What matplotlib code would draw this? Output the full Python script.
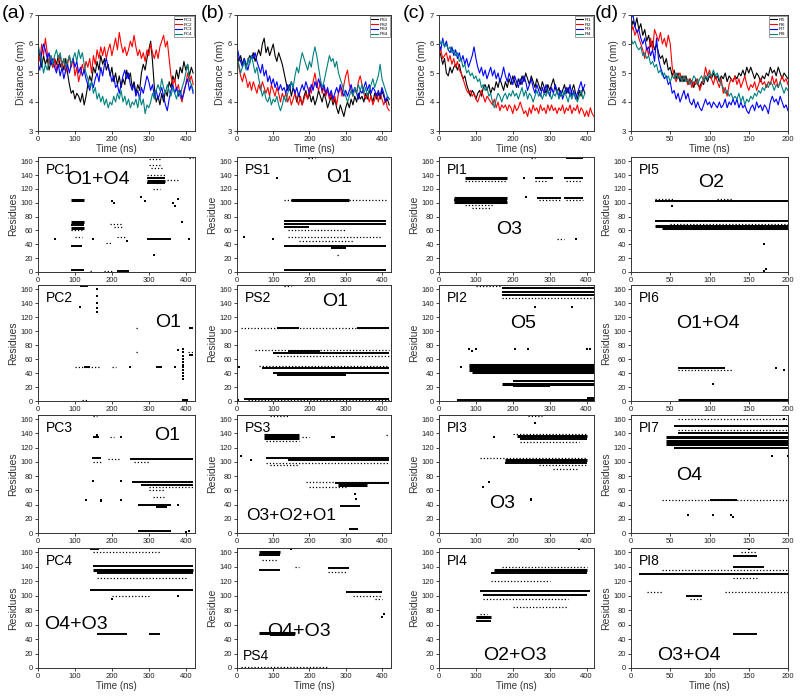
import numpy as np
import matplotlib.pyplot as plt

plt.rcParams['font.family'] = ['Liberation Sans', 'DejaVu Sans']

W, H = 800, 699

# ---------------- distance time series (nm) ----------------
t5 = np.arange(0, 425, 5)        # 0..420 ns
t25 = np.arange(0, 202.5, 2.5)   # 0..200 ns

pc1 = [5.5,5.7,5.2,5.6,5.3,5.5,5.1,5.4,5.2, 5.5,5.3,5.6,5.2,5.4,5.1,5.5,5.0,
       4.6,4.3,4.4,4.1,4.3,4.2,4.0,4.3,3.9,4.2, 4.6,4.9,4.7,5.2,5.0,5.4,5.1,5.6,5.3,
       5.5,5.1,5.3,4.9,5.2,4.7,5.0,4.6, 4.9,4.5,4.8,4.6,5.1,4.8,5.0,4.5,4.7,
       4.3,4.6,4.4,5.0,5.3,5.1,5.5,5.8, 6.1,5.4,4.5,4.0,4.2,3.9,4.3,4.0,
       4.4,4.2,4.7,4.5,4.9,4.7,5.1,4.8,5.2, 5.0,5.4,5.1,5.3,4.9,5.2,5.0]
pc2 = [5.8,5.4,6.0,5.6,6.2,5.7,5.3,5.6,5.2, 5.5,5.1,5.4,5.6,5.2,5.5,5.0,5.3,
       5.6,5.2,5.5,4.9,5.2,4.7,5.0,5.3,5.0,5.4, 5.2,5.5,5.0,5.6,5.3,5.8,5.5,5.9,5.6,
       5.9,5.5,5.8,6.0,5.6,5.9,6.2,5.8, 6.4,6.0,5.7,5.9,5.6,5.8,6.1,5.9,6.3,
       5.9,5.6,5.8,5.5,5.7,5.4,5.8,5.6, 6.0,5.7,5.5,5.8,5.5,5.9,6.1,6.3,
       5.9,6.1,5.5,4.9,4.6,4.8,4.4,4.6,4.2, 4.0,4.4,4.6,5.0,4.7,4.9,4.6]
pc3 = [5.3,5.1,5.7,6.0,5.8,5.5,5.7,5.3,5.5, 5.2,5.0,5.3,4.9,5.2,4.8,5.1,5.3,
       5.0,5.3,5.5,5.2,5.4,5.0,5.2,4.9,5.1,4.8, 4.6,4.4,4.7,4.5,4.8,5.0,4.7,5.2,4.9,
       5.3,5.5,5.2,5.0,4.7,4.9,4.5,4.6, 4.3,4.6,4.9,5.1,4.8,5.0,4.6,4.4,4.6,
       4.2,4.4,4.1,4.5,4.3,4.6,4.9,4.7, 4.4,4.6,4.2,4.4,4.1,4.3,4.5,4.2,
       3.9,3.7,4.1,4.4,4.6,4.3,4.5,4.2,4.4, 4.1,4.3,4.6,4.8,4.4,4.6,4.3]
pc4 = [6.0,5.7,5.4,5.0,5.3,5.1,5.4,5.6,5.3, 5.6,5.8,5.5,5.7,5.3,5.5,5.2,5.4,
       5.6,5.3,5.5,5.7,5.4,5.8,5.5,5.7,5.3,5.0, 4.8,4.5,4.7,4.3,4.5,4.1,4.3,4.0,4.2,
       3.9,4.1,3.8,4.0,3.9,4.2,4.0,4.3, 4.1,4.4,4.0,4.2,3.9,4.1,3.8,4.0,3.9,
       4.1,3.8,4.2,3.9,4.1,3.6,3.9,3.8, 4.0,4.3,4.1,4.4,4.6,4.4,4.8,4.5,
       4.3,4.6,4.4,4.2,4.5,4.3,4.1,4.4,4.2, 4.5,4.7,5.0,5.3,4.8,4.6,4.4]

ps1 = [5.7,5.4,5.6,5.3,5.5,5.2,5.4,5.6,5.5, 5.7,5.4,5.6,5.8,5.6,6.0,6.2,5.7,
       5.9,5.6,5.8,6.0,5.6,5.4,5.7,5.5,5.3,5.0, 4.7,4.4,4.6,4.2,4.5,4.3,4.0,4.3,4.1,
       3.9,4.2,4.4,4.1,4.3,4.0,4.2,3.9, 4.1,4.4,4.2,4.0,4.3,4.1,3.8,4.0,4.2,
       3.9,4.1,3.8,3.6,3.9,3.7,3.5,3.8, 4.0,3.8,4.1,3.9,4.2,4.0,4.3,4.1,
       4.2,4.0,4.3,4.1,4.4,4.2,4.0,4.3,4.1, 4.3,4.1,4.4,4.2,4.0,4.1,3.9]
ps2 = [5.6,5.2,4.9,4.7,5.0,4.8,4.5,4.7,4.4, 4.7,4.5,4.3,4.6,4.4,4.7,4.5,4.3,
       4.5,4.2,4.6,4.4,4.2,4.5,4.3,4.0,4.3,4.1, 4.3,4.0,4.2,3.9,4.1,4.3,4.1,3.9,4.2,
       3.9,4.1,4.3,4.1,4.5,4.3,4.7,5.0, 4.6,4.4,4.7,4.3,4.5,4.2,4.4,4.1,4.3,
       4.0,4.2,3.9,4.3,4.5,4.2,4.6,4.9, 5.1,4.6,4.4,4.2,4.5,4.3,4.7,4.9,
       4.6,4.3,4.1,4.3,4.0,4.2,3.9,4.1,4.3, 4.0,4.3,4.1,3.9,4.1,3.8,3.7]
ps3 = [5.9,5.6,5.4,5.2,5.5,5.3,5.1,5.4,5.6, 5.5,5.7,5.4,5.2,5.0,5.3,4.9,5.1,
       4.7,4.9,4.6,4.8,4.5,4.7,4.4,4.6,4.4,4.5, 4.3,4.6,4.4,4.7,4.5,4.3,4.5,4.2,4.4,
       4.6,4.4,4.7,4.5,4.3,4.6,4.4,4.7, 4.5,4.8,4.6,4.4,4.6,4.3,4.5,4.2,4.4,
       4.1,4.3,4.5,4.3,4.6,4.4,4.2,4.4, 4.2,4.4,4.6,4.3,4.5,4.3,4.1,4.4,
       4.3,4.5,4.7,4.4,4.6,4.3,4.5,4.4,4.2, 4.4,4.2,4.5,4.3,4.0,4.2,4.1]
ps4 = [5.5,5.3,5.0,5.2,5.4,5.1,5.5,5.3,5.6, 5.3,5.0,5.2,4.8,4.5,4.2,4.4,4.1,
       4.0,4.2,3.9,4.1,4.0,4.2,3.9,3.7,3.9,4.2, 4.0,4.3,4.5,4.7,4.5,4.9,5.2,5.0,5.4,
       5.7,5.5,5.3,5.1,5.4,5.2,5.6,5.9, 5.6,5.2,4.8,4.5,4.7,5.0,5.3,5.6,5.4,
       5.5,5.2,5.4,5.0,4.8,4.6,4.4,4.2, 4.0,4.2,4.4,4.2,4.5,4.3,4.6,4.4,
       4.6,4.3,4.5,4.2,4.4,4.6,4.8,4.5,4.7, 4.9,5.3,4.8,4.6,4.4,4.2,4.1]

pi1 = [5.8,5.6,5.3,5.5,5.0,4.9,5.2,5.0,5.2, 5.3,5.1,5.3,5.0,4.8,4.9,4.6,4.4,
       4.2,4.4,4.3,4.1,4.3,4.4,4.2,4.5,4.6,4.4, 4.6,4.3,4.5,4.4,4.7,4.5,4.8,4.6,4.4,
       4.7,4.5,4.8,4.6,4.9,4.7,4.5,4.8, 4.6,4.9,4.7,5.0,4.8,4.6,4.9,4.7,4.5,
       4.8,4.6,4.4,4.7,4.5,4.3,4.6,4.4, 4.6,4.8,4.5,4.3,4.5,4.2,4.4,4.6,
       4.3,4.5,4.2,4.4,4.6,4.3,4.1,4.4,4.2,4.5,4.3]
pi2 = [5.7,5.8,5.5,5.6,5.7,5.4,5.6,5.3,5.5, 5.2,5.4,5.1,5.0,4.8,4.6,4.4,4.3,
       4.4,4.2,4.3,4.1,4.0,4.2,4.4,4.2,4.0,4.2, 4.1,4.0,3.9,4.1,3.8,4.0,3.7,3.9,3.8,
       3.9,3.7,3.9,3.8,3.6,3.9,3.7,3.8, 4.0,3.8,3.6,3.7,3.5,3.8,3.6,3.9,3.7,
       3.8,3.6,3.9,3.7,3.8,3.6,3.9,3.7, 3.9,3.7,3.8,3.6,3.8,3.7,3.9,3.6,
       3.8,3.7,3.9,3.6,3.8,3.7,3.9,3.6,3.8, 3.7,3.5,3.7,3.5,3.8,3.6,3.5]
pi3 = [6.0,5.8,6.2,5.9,6.1,5.8,5.7,5.9,5.6, 5.8,5.5,5.7,5.4,5.6,5.3,5.5,5.2,
       5.4,5.6,5.9,5.5,5.2,5.0,5.2,4.9,5.1,4.8, 5.0,5.2,4.9,5.1,4.8,5.0,4.7,4.9,5.2,
       4.9,4.7,5.0,4.8,4.6,4.9,4.7,4.5, 4.8,4.6,4.9,4.7,4.4,4.6,4.8,4.5,4.3,
       4.6,4.4,4.2,4.5,4.3,4.6,4.4,4.2, 4.5,4.3,4.6,4.4,4.2,4.4,4.1,4.3,
       4.5,4.3,4.6,4.2,4.4,4.1,4.3,4.5,4.7,4.4,4.6]
pi4 = [6.2,6.0,6.1,5.9,6.0,5.8,5.9,5.7,5.8, 5.6,5.7,5.4,5.5,5.2,5.3,5.0,5.1,
       4.9,5.0,4.8,4.9,4.7,4.8,4.5,4.6,4.4,4.5, 4.2,4.3,4.0,3.8,4.1,4.3,4.2,4.0,4.2,
       4.3,4.1,4.3,4.2,4.4,4.2,4.3,4.1, 4.3,4.5,4.2,4.4,4.1,4.3,4.2,4.0,4.2,
       4.4,4.2,4.3,4.1,4.3,4.2,4.4,4.3, 4.1,4.3,4.2,4.4,4.1,4.3,4.2,4.4,
       4.2,4.0,4.3,4.1,4.3,4.2,4.0,4.2,4.4,4.1,4.3]

pi5 = [6.5,6.8,6.6,6.9,6.5,6.7,6.3,6.5,6.1, 6.3,5.9,6.1,5.8,6.0,5.7,5.5,5.6,
       5.3,5.5,5.1,5.2,4.9,5.1,4.8,5.0,4.7,4.9, 4.7,4.9,4.6,4.8,4.7,4.5,4.8,4.6,4.5,
       4.7,4.6,4.9,4.7,4.9,4.8,5.0,4.8, 4.9,4.7,4.9,4.8,5.0,4.7,4.9,4.8,4.7,
       4.9,4.8,5.0,4.9,5.1,4.9,5.2,5.0, 5.2,5.0,4.8,5.0,4.9,4.7,4.9,4.8,
       5.0,4.9,5.2,5.0,5.1,4.9,5.2,5.0,4.8,5.0,4.9,4.8]
pi6 = [6.4,6.6,6.3,6.5,6.2,6.0,5.8,5.5,5.9, 5.6,6.2,5.8,6.5,6.3,6.1,6.4,6.0,
       6.2,5.9,6.3,6.0,5.2,4.9,4.7,4.9,5.0,4.7, 4.9,4.8,4.6,4.8,4.5,4.7,4.6,4.8,4.4,
       4.6,4.8,5.2,4.9,5.1,4.8,4.6,4.9, 4.7,4.5,4.8,4.3,4.5,4.2,4.6,4.8,4.7,
       4.9,4.6,4.8,4.5,4.7,4.9,4.6,4.4, 4.6,4.5,4.7,4.4,4.6,4.8,4.6,4.7,
       4.5,4.7,4.6,4.9,4.6,4.8,4.5,4.7,4.9,4.7,4.8,4.6]
pi7 = [6.9,7.0,6.6,6.4,6.5,6.2,6.0,6.2,5.8, 5.9,5.6,5.8,5.4,6.2,5.5,5.2,5.0,
       4.8,4.9,4.6,4.7,4.3,4.4,4.1,4.3,4.0,4.2, 4.4,4.1,4.3,4.0,3.9,4.1,3.8,4.0,3.8,
       3.7,3.9,4.1,3.9,4.0,3.8,4.0,3.9, 3.8,4.0,3.8,3.9,4.1,3.8,4.0,3.9,4.1,
       3.9,4.1,3.8,4.0,3.8,3.9,3.7,3.6, 3.8,3.9,3.7,4.0,3.8,3.9,3.7,3.9,
       3.8,3.6,4.0,4.2,4.0,4.1,3.9,4.2,4.0,3.8,3.9,3.7]
pi8 = [6.2,6.0,6.1,5.9,5.8,5.9,5.6,5.7,5.5, 5.6,5.3,5.4,5.2,5.3,5.0,5.1,4.9,
       5.0,4.8,4.9,4.7,4.9,4.8,5.0,4.8,4.9,4.7, 4.9,4.7,4.8,4.6,4.7,4.9,4.8,4.6,4.8,
       4.9,4.7,4.9,4.8,5.0,4.9,5.1,4.9, 5.0,4.8,4.6,4.5,4.3,4.4,4.2,4.3,4.1,
       4.2,4.1,4.3,4.0,4.2,3.9,4.1,4.0, 4.2,4.1,4.3,4.2,4.4,4.3,4.5,4.4,
       4.6,4.5,4.7,4.6,4.4,4.6,4.5,4.7,4.5,4.3,4.5,4.4]

# ---------------- contact maps ----------------
# bands: (residue, t_start, t_end, density 1..3); dots: (t, residue)
pc1_bands = [(104, 90, 125, 3), (72, 88, 125, 3), (68, 88, 125, 2), (64, 88, 125, 3),
             (61, 90, 122, 1), (50, 100, 118, 1), (37, 90, 120, 2), (3, 90, 125, 2),
             (1, 140, 150, 1), (2, 180, 200, 1), (2, 215, 245, 2), (70, 195, 230, 1),
             (65, 205, 230, 1), (50, 215, 235, 1), (42, 185, 200, 1),
             (140, 295, 345, 1), (136, 295, 345, 2), (132, 295, 345, 3), (128, 295, 345, 2),
             (150, 305, 335, 1), (155, 300, 330, 1), (163, 300, 335, 1), (120, 310, 330, 1),
             (133, 350, 380, 1), (47, 295, 360, 2), (165, 410, 420, 1)]
pc1_dots = [(45, 48), (150, 48), (200, 103), (205, 100), (280, 108), (290, 103),
            (365, 100), (372, 95), (378, 105), (390, 72), (410, 48), (240, 45), (315, 25)]

pc2_bands = [(48, 100, 165, 1), (48, 125, 140, 2), (48, 320, 335, 2), (48, 200, 210, 1),
             (165, 115, 135, 2), (105, 265, 272, 1), (70, 265, 272, 1), (66, 410, 420, 2),
             (70, 405, 420, 1), (104, 410, 420, 2), (2, 390, 405, 2), (1, 120, 135, 1)]
pc2_dots = [(160, 160), (160, 150), (160, 140), (160, 133), (160, 128), (115, 135),
            (250, 48), (370, 48), (392, 32), (392, 36), (393, 40), (392, 44), (393, 48),
            (392, 52), (393, 56), (392, 60), (393, 64), (392, 70), (393, 75), (380, 73)]

pc3_bands = [(135, 150, 165, 2), (135, 195, 205, 1), (105, 145, 170, 2), (104, 190, 220, 1),
             (104, 250, 420, 2), (100, 150, 170, 1), (100, 260, 300, 1), (72, 255, 420, 2),
             (68, 280, 420, 2), (65, 300, 420, 1), (60, 300, 340, 1), (50, 310, 340, 1),
             (40, 270, 360, 2), (37, 320, 350, 2), (3, 270, 360, 2), (165, 150, 160, 1)]
pc3_dots = [(225, 135), (160, 138), (130, 47), (170, 47), (170, 45), (225, 47),
            (150, 73), (225, 73), (380, 40), (410, 3), (400, 1)]

pc4_bands = [(165, 140, 165, 2), (160, 150, 330, 1), (141, 150, 420, 2), (136, 150, 420, 3),
             (131, 160, 420, 2), (125, 160, 400, 1), (108, 140, 420, 2), (100, 200, 300, 1),
             (47, 160, 240, 2), (47, 300, 330, 2)]
pc4_dots = [(380, 100), (200, 95)]

ps1_bands = [(104, 150, 310, 3), (104, 130, 410, 1), (73, 130, 410, 2), (69, 130, 410, 2),
             (65, 130, 200, 2), (60, 140, 300, 1), (50, 140, 400, 1), (45, 170, 320, 1),
             (38, 130, 410, 2), (35, 260, 300, 2), (3, 130, 410, 2), (25, 275, 285, 1),
             (165, 195, 215, 1)]
ps1_dots = [(110, 135), (20, 50), (100, 48)]

ps2_bands = [(105, 10, 410, 1), (105, 110, 170, 2), (105, 330, 420, 2), (73, 50, 420, 1),
             (72, 140, 230, 2), (68, 100, 420, 2), (65, 110, 420, 1), (50, 60, 420, 1),
             (47, 70, 420, 2), (40, 100, 420, 2), (37, 110, 300, 2), (3, 20, 420, 2),
             (1, 30, 420, 1), (165, 130, 150, 1)]
ps2_dots = [(2, 2), (5, 48)]

ps3_bands = [(138, 75, 170, 3), (134, 75, 170, 3), (130, 80, 170, 1), (135, 180, 200, 1),
             (135, 260, 270, 2), (138, 410, 420, 1), (105, 80, 420, 2), (102, 140, 420, 2),
             (98, 80, 420, 1), (95, 90, 170, 1), (72, 190, 420, 1), (70, 270, 420, 2),
             (67, 280, 360, 3), (65, 200, 300, 1), (38, 285, 340, 2), (5, 310, 335, 2),
             (165, 90, 140, 1)]
ps3_dots = [(10, 108), (40, 103), (325, 55), (328, 48)]

ps4_bands = [(161, 60, 120, 3), (156, 60, 120, 2), (150, 70, 110, 1), (136, 60, 120, 2),
             (140, 160, 170, 1), (138, 250, 310, 2), (133, 250, 300, 1), (105, 300, 400, 2),
             (100, 320, 400, 1), (95, 380, 400, 1), (48, 60, 160, 3), (46, 90, 160, 2),
             (2, 10, 250, 1)]
ps4_dots = [(400, 70), (405, 75), (150, 165)]

pi1_bands = [(136, 70, 185, 3), (131, 70, 185, 1), (136, 260, 310, 2), (131, 260, 290, 1),
             (136, 340, 390, 2), (131, 345, 385, 1), (165, 345, 390, 2), (165, 250, 260, 1),
             (107, 40, 185, 3), (104, 40, 185, 2), (101, 40, 185, 3), (96, 70, 150, 1),
             (92, 90, 140, 1), (107, 265, 330, 2), (104, 270, 330, 1), (107, 340, 390, 2),
             (104, 345, 390, 1), (47, 320, 340, 1)]
pi1_dots = [(230, 136), (235, 108), (370, 47)]

pi2_bands = [(51, 80, 420, 3), (48, 80, 420, 3), (45, 80, 420, 3), (42, 90, 420, 3),
             (40, 150, 420, 2), (28, 200, 420, 2), (25, 170, 420, 3), (22, 200, 300, 2),
             (2, 50, 420, 2), (4, 400, 420, 2), (161, 170, 420, 2), (156, 170, 420, 2),
             (151, 170, 420, 2), (148, 170, 420, 1), (165, 100, 170, 1)]
pi2_dots = [(80, 75), (90, 72), (100, 75), (205, 75), (240, 75), (400, 75), (410, 75),
            (260, 135), (360, 135), (60, 48)]

pi3_bands = [(136, 210, 400, 3), (132, 220, 400, 2), (128, 220, 380, 1), (139, 200, 400, 1),
             (165, 240, 280, 1), (105, 110, 400, 1), (102, 180, 400, 3), (99, 180, 400, 2),
             (95, 270, 400, 1), (90, 310, 380, 1)]
pi3_dots = [(250, 47), (248, 48), (120, 65), (135, 72), (150, 135), (260, 155)]

pi4_bands = [(140, 170, 400, 1), (136, 150, 400, 3), (131, 140, 400, 2), (120, 140, 300, 1),
             (106, 110, 410, 2), (101, 120, 400, 2), (95, 120, 350, 1), (85, 200, 350, 1),
             (75, 110, 130, 1), (70, 100, 140, 3), (65, 100, 140, 2)]
pi4_dots = [(380, 165)]

pi5_bands = [(103, 30, 200, 2), (106, 30, 55, 1), (105, 110, 130, 1), (73, 30, 200, 2),
             (70, 50, 200, 1), (66, 30, 200, 3), (63, 40, 200, 3)]
pi5_dots = [(170, 40), (52, 95), (170, 2), (172, 4)]

pi6_bands = [(47, 60, 120, 2), (44, 60, 130, 1), (1, 60, 200, 3)]
pi6_dots = [(105, 25), (185, 47), (195, 45)]

pi7_bands = [(160, 60, 200, 1), (150, 55, 200, 2), (145, 60, 200, 1), (140, 60, 200, 2),
             (135, 45, 200, 3), (130, 45, 200, 3), (125, 45, 200, 3), (120, 55, 200, 2),
             (47, 40, 200, 1), (47, 100, 135, 2)]
pi7_dots = [(72, 25), (105, 25), (128, 25), (130, 23), (180, 108), (200, 108), (195, 160)]

pi8_bands = [(160, 140, 160, 1), (155, 130, 160, 2), (140, 130, 170, 2), (135, 40, 200, 1),
             (130, 10, 200, 2), (125, 130, 160, 1), (105, 20, 40, 1), (105, 120, 200, 1),
             (100, 70, 90, 2), (95, 75, 90, 1), (47, 130, 160, 2)]
pi8_dots = [(150, 165)]

# ---------------- layout (pixels) ----------------
cols = [(38, 157), (237, 154), (439, 155), (631, 157)]
rows = [(15, 131), (157, 272), (285, 401), (415, 533), (548, 668)]
xmax = [425, 425, 420, 200]
colors = ['black', 'red', 'blue', '#008080']

fig = plt.figure(figsize=(W / 100, H / 100), dpi=100)


def make_ax(c, r):
    left, w = cols[c]
    top, bot = rows[r]
    ax = fig.add_axes([left / W, 1 - bot / H, w / W, (bot - top) / H])
    for s in ax.spines.values():
        s.set_linewidth(0.7)
        s.set_color('#333333')
    ax.tick_params(labelsize=5.5, length=2, width=0.6, pad=1.5, colors='#222222')
    ax.set_xlim(0, xmax[c])
    if xmax[c] == 200:
        ax.set_xticks([0, 50, 100, 150, 200])
    else:
        ax.set_xticks([0, 100, 200, 300, 400])
    return ax


# top row: distance curves
series = [(t5, [pc1, pc2, pc3, pc4], ['PC1', 'PC2', 'PC3', 'PC4']),
          (t5, [ps1, ps2, ps3, ps4], ['PS1', 'PS2', 'PS3', 'PS4']),
          (t5, [pi1, pi2, pi3, pi4], ['PI1', 'PI2', 'PI3', 'PI4']),
          (t25, [pi5, pi6, pi7, pi8], ['PI5', 'PI6', 'PI7', 'PI8'])]
for c, (t, ys, names) in enumerate(series):
    ax = make_ax(c, 0)
    for y, nm, col in zip(ys, names, colors):
        ax.plot(t[:len(y)], y, color=col, lw=0.8, label=nm)
    ax.set_ylim(3, 7)
    ax.set_yticks([3, 4, 5, 6, 7])
    ax.set_xlabel('Time (ns)', fontsize=7, labelpad=1, color='#333333')
    ax.set_ylabel('Distance (nm)', fontsize=7.5, labelpad=2, color='#333333')
    leg = ax.legend(loc='upper right', fontsize=3.2, handlelength=1.6, borderpad=0.3,
                    labelspacing=0.15, handletextpad=0.4, fancybox=False, framealpha=1,
                    borderaxespad=0.3)
    leg.get_frame().set_linewidth(0.4)
    leg.get_frame().set_edgecolor('#555555')
    fig.text(cols[c][0] / W - 0.045, 1 - 14 / H, '(' + 'abcd'[c] + ')',
             fontsize=14, va='center', ha='left')

# contact maps
maps = [
    [('PC1', pc1_bands, pc1_dots, 'O1+O4', (0.38, 0.80), 14),
     ('PC2', pc2_bands, pc2_dots, 'O1', (0.83, 0.68), 14),
     ('PC3', pc3_bands, pc3_dots, 'O1', (0.82, 0.83), 14),
     ('PC4', pc4_bands, pc4_dots, 'O4+O3', (0.24, 0.36), 14)],
    [('PS1', ps1_bands, ps1_dots, 'O1', (0.66, 0.82), 14),
     ('PS2', ps2_bands, ps2_dots, 'O1', (0.64, 0.86), 14),
     ('PS3', ps3_bands, ps3_dots, 'O3+O2+O1', (0.35, 0.15), 12.5),
     ('PS4', ps4_bands, ps4_dots, 'O4+O3', (0.40, 0.30), 14)],
    [('PI1', pi1_bands, pi1_dots, 'O3', (0.45, 0.37), 14),
     ('PI2', pi2_bands, pi2_dots, 'O5', (0.54, 0.67), 14),
     ('PI3', pi3_bands, pi3_dots, 'O3', (0.41, 0.25), 14),
     ('PI4', pi4_bands, pi4_dots, 'O2+O3', (0.49, 0.10), 14)],
    [('PI5', pi5_bands, pi5_dots, 'O2', (0.51, 0.78), 14),
     ('PI6', pi6_bands, pi6_dots, 'O1+O4', (0.49, 0.67), 14),
     ('PI7', pi7_bands, pi7_dots, 'O4', (0.37, 0.49), 14),
     ('PI8', pi8_bands, pi8_dots, 'O3+O4', (0.37, 0.10), 14)],
]
ylab = ['Residues', 'Residue', 'Residue', 'Residues']

lw_of = {1: 0.9, 2: 1.4, 3: 2.2}
for c in range(4):
    for r in range(4):
        name, bands, dots, oligo, opos, ofs = maps[c][r]
        ax = make_ax(c, r + 1)
        for res, t0, t1, lvl in bands:
            ls = (0, (1, 1.6)) if lvl == 1 else '-'
            ax.hlines(res, t0, t1, colors='black', lw=lw_of[lvl], linestyles=ls)
        if dots:
            dx, dy = zip(*dots)
            ax.scatter(dx, dy, s=2.5, c='black', marker='s', linewidths=0)
        ax.set_ylim(0, 166)
        ax.set_yticks(range(0, 161, 20))
        ax.set_ylabel(ylab[c], fontsize=7.5, labelpad=2, color='#333333')
        if r == 3:
            ax.set_xlabel('Time (ns)', fontsize=7, labelpad=1, color='#333333')
        if name == 'PS4':
            ax.text(0.04, 0.04, name, transform=ax.transAxes, fontsize=10,
                    ha='left', va='bottom')
        else:
            ax.text(0.05, 0.95, name, transform=ax.transAxes, fontsize=10,
                    ha='left', va='top')
        ax.text(opos[0], opos[1], oligo, transform=ax.transAxes, fontsize=ofs,
                ha='center', va='center')

fig.savefig('out.png', dpi=100)
